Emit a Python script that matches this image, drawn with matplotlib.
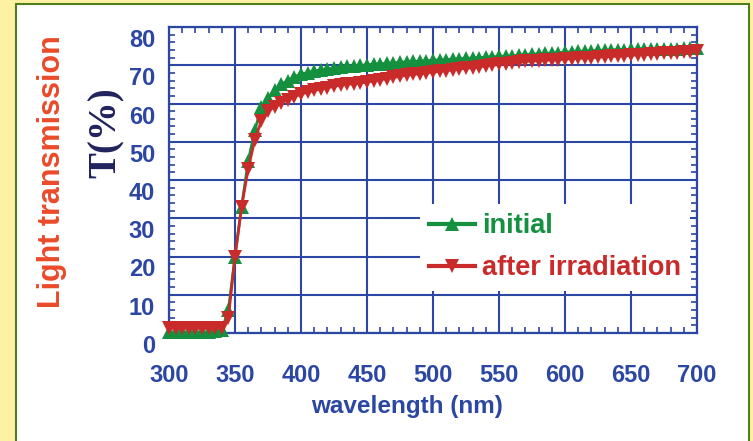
import matplotlib
matplotlib.use('Agg')
import matplotlib.pyplot as plt
import matplotlib.transforms as mtransforms
from matplotlib.ticker import MultipleLocator
from matplotlib.patches import Rectangle
from matplotlib.lines import Line2D

# ---------------- data ----------------
wavelength = list(range(300, 705, 5))
initial = [0.3, 0.3, 0.3, 0.3, 0.3, 0.3, 0.3, 0.4, 0.8,
           6, 20, 33, 45, 53, 59, 61.5, 63.5, 65, 66, 67, 67.7,
           68.1, 68.5, 68.8, 69, 69.3, 69.5, 69.7, 69.8, 70, 70.1,
           70.3, 70.4, 70.5, 70.6, 70.8, 70.9, 71, 71.1, 71.2, 71.3,
           71.4, 71.5, 71.6, 71.7, 71.8, 71.9, 72, 72.1, 72.2, 72.3,
           72.4, 72.5, 72.6, 72.8, 72.9, 73, 73.1, 73.2, 73.3, 73.4,
           73.5, 73.6, 73.7, 73.8, 73.9, 73.9, 74, 74.1, 74.1, 74.2,
           74.2, 74.3, 74.3, 74.3, 74.3, 74.3, 74.3, 74.4, 74.4, 74.4]
after_irradiation = [1.2, 1.2, 1.2, 1.2, 1.2, 1.2, 1.2, 1.2, 1.4,
           4, 20, 33, 43, 50.5, 55.5, 58, 59.2, 60.2, 61, 61.8, 62.4,
           63, 63.4, 63.8, 64.1, 64.5, 64.8, 65, 65.2, 65.4, 65.6,
           65.9, 66.2, 66.5, 66.8, 67.1, 67.4, 67.6, 67.8, 68, 68.2,
           68.4, 68.6, 68.8, 69, 69.2, 69.4, 69.6, 69.8, 70, 70.2,
           70.4, 70.6, 70.8, 71, 71.1, 71.2, 71.3, 71.4, 71.5, 71.6,
           71.7, 71.8, 71.9, 72, 72.1, 72.2, 72.3, 72.4, 72.5, 72.6,
           72.7, 72.8, 72.9, 73, 73.1, 73.2, 73.3, 73.4, 73.5, 73.6]
x_ticks = [300, 350, 400, 450, 500, 550, 600, 650, 700]
y_ticks = [0, 10, 20, 30, 40, 50, 60, 70, 80]
series_labels = ['initial', 'after irradiation']

# ---------------- style ----------------
W, H = 753, 441
BLUE = '#2b46a3'
GREEN = '#14903f'
RED = '#c92a2a'
SANS = ['Liberation Sans', 'DejaVu Sans']
MS = 9.5

fig = plt.figure(figsize=(W / 100, H / 100), dpi=100)
fig.patch.set_facecolor('#fff1a3')

# white panel with green border
panel = Rectangle((16 / W, -0.05), (749 - 16) / W, 1 - 4 / H + 0.05,
                  transform=fig.transFigure, facecolor='white',
                  edgecolor='#4f7d1c', linewidth=1.5, zorder=-5)
fig.patches.append(panel)

ax = fig.add_axes([169 / W, (H - 333) / H, 528 / W, 306 / H])
ax.set_zorder(1)
ax.set_facecolor('white')

ax.plot(wavelength, initial, color=GREEN, marker='^', markersize=MS,
        linewidth=2, markeredgewidth=0, clip_on=False, zorder=3)
ax.plot(wavelength, after_irradiation, color=RED, marker='v', markersize=MS,
        linewidth=2, markeredgewidth=0, clip_on=False, zorder=4)

ax.set_xlim(300, 700)
ax.set_ylim(0, 80)
ax.set_xticks(x_ticks)
ax.set_yticks(y_ticks)
ax.xaxis.set_minor_locator(MultipleLocator(10))
ax.yaxis.set_minor_locator(MultipleLocator(2))
ax.grid(True, which='major', color=BLUE, linewidth=1.5, zorder=1)
ax.set_axisbelow(True)
for s in ax.spines.values():
    s.set_color(BLUE)
    s.set_linewidth(1.6)
ax.tick_params(which='both', direction='in', top=True, right=True, color=BLUE)
ax.tick_params(which='major', length=0, width=1.2)
ax.tick_params(which='minor', length=4, width=1.2)
ax.tick_params(axis='x', which='major', pad=22)
ax.tick_params(axis='y', which='major', pad=10)

for lab in ax.get_xticklabels() + ax.get_yticklabels():
    lab.set_family(SANS)
    lab.set_fontweight('bold')
    lab.set_fontsize(17)
    lab.set_color(BLUE)

offset = mtransforms.ScaledTranslation(0, -11 / 100, fig.dpi_scale_trans)
for lab in ax.get_yticklabels():
    lab.set_transform(lab.get_transform() + offset)

# legend
handles = [Line2D([], [], color=GREEN, marker='^', markersize=MS, linewidth=3, markeredgewidth=0),
           Line2D([], [], color=RED, marker='v', markersize=MS, linewidth=3, markeredgewidth=0)]
leg = ax.legend(handles, series_labels, loc='upper left',
                bbox_to_anchor=(406 / W, 1 - 190 / H), bbox_transform=fig.transFigure,
                prop={'family': SANS, 'weight': 'bold', 'size': 19.5},
                handlelength=1.7, handletextpad=0.25, labelspacing=0.6,
                borderpad=0.35, numpoints=1, frameon=True, fancybox=False,
                facecolor='white', edgecolor='none', framealpha=1.0)
for t, c in zip(leg.get_texts(), [GREEN, RED]):
    t.set_color(c)
leg.set_zorder(2)

# axis titles
fig.text(407 / W, 1 - 407 / H, 'wavelength (nm)', ha='center', va='center',
         family=SANS, fontweight='bold', fontsize=17.5, color=BLUE)
fig.text(52 / W, 1 - 172 / H, 'Light transmission', ha='center', va='center',
         rotation=90, family=SANS, fontweight='bold',
         fontsize=22, color='#ea4a2a')
fig.text(106 / W, 1 - 133 / H, 'T(%)', ha='center', va='center', rotation=90,
         family=['Liberation Serif', 'DejaVu Serif'], fontweight='bold',
         fontsize=28, color='#22235e')

fig.savefig('out.png', dpi=100, facecolor=fig.get_facecolor())
